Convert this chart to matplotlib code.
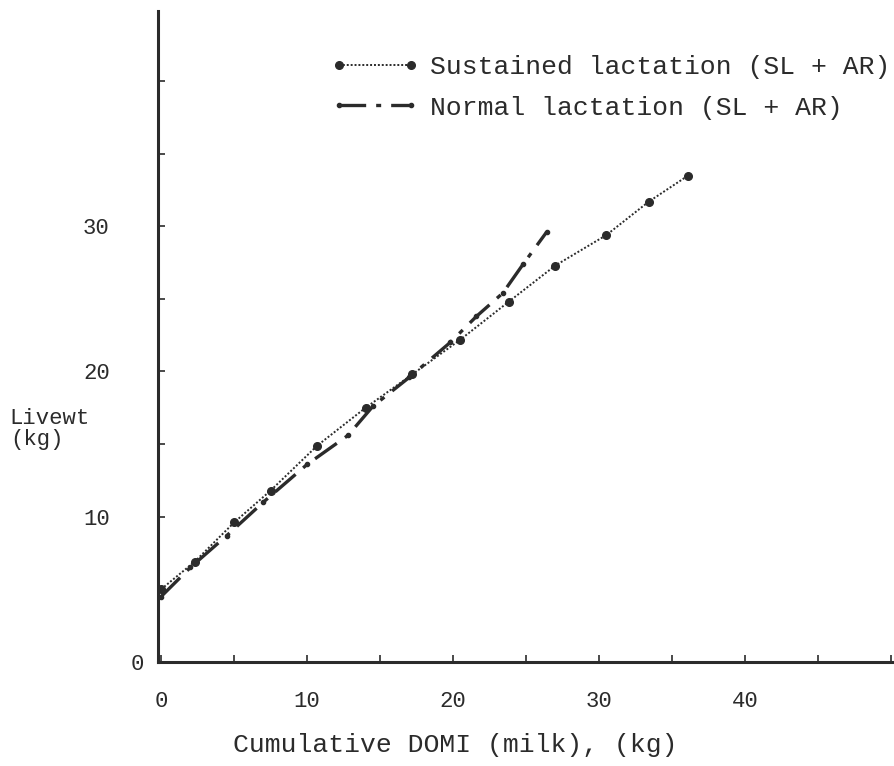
import matplotlib
matplotlib.use("Agg")
import matplotlib.pyplot as plt
from matplotlib.ticker import MultipleLocator

# cumulative digestible organic matter intake from milk (kg) vs liveweight (kg)
sustained_domi = [0, 2.3, 5.0, 7.5, 10.7, 14.0, 17.2, 20.5, 23.8, 27.0, 30.5, 33.4, 36.1]
sustained_livewt = [5.0, 6.9, 9.6, 11.8, 14.9, 17.5, 19.8, 22.2, 24.8, 27.3, 29.4, 31.7, 33.5]

normal_domi = [0, 2.0, 4.5, 7.0, 10.0, 12.8, 14.5, 17.0, 19.8, 21.6, 23.4, 24.8, 26.4]
normal_livewt = [4.5, 6.5, 8.7, 11.0, 13.6, 15.6, 17.6, 19.6, 22.0, 23.8, 25.4, 27.4, 29.6]

x_ticks = [0, 10, 20, 30, 40]
y_ticks = [0, 10, 20, 30]

ink = "#2b2b2b"
plt.rcParams["font.family"] = ["Liberation Mono", "DejaVu Sans Mono"]

fig = plt.figure(figsize=(8.94, 7.66), dpi=100)
ax = fig.add_axes([0.177, 0.136, 0.823, 0.849])

ax.plot(sustained_domi, sustained_livewt, linestyle=(0, (1, 1)), linewidth=1.4,
        color=ink, marker="o", markersize=5.5, label="Sustained lactation (SL + AR)")
ax.plot(normal_domi, normal_livewt, linestyle=(0, (8, 3, 1.5, 3)), linewidth=2.4,
        color=ink, marker="o", markersize=3, label="Normal lactation (SL + AR)")

ax.set_xlim(-0.2, 50.2)
ax.set_ylim(0, 44.8)
ax.set_xticks(x_ticks)
ax.set_yticks(y_ticks)
ax.xaxis.set_minor_locator(MultipleLocator(5))
ax.yaxis.set_minor_locator(MultipleLocator(5))
ax.tick_params(which="both", direction="in", length=5, width=1.2, color=ink,
               labelcolor=ink, labelsize=16)
ax.tick_params(axis="x", pad=21)
ax.tick_params(axis="y", pad=35)
ax.yaxis.get_major_ticks()[0].set_pad(10)

for side in ("top", "right"):
    ax.spines[side].set_visible(False)
for side in ("left", "bottom"):
    ax.spines[side].set_linewidth(2.2)
    ax.spines[side].set_color(ink)

ax.set_xlabel("Cumulative DOMI (milk), (kg)", fontsize=19, color=ink)
ax.xaxis.set_label_coords(0.404, -0.11)
fig.text(0.011, 0.44, "Livewt\n(kg)", fontsize=16, color=ink, ha="left",
         va="center", linespacing=0.95)

ax.legend(loc="upper right", bbox_to_anchor=(1.017, 0.957), frameon=False,
          fontsize=19, numpoints=2, handlelength=3.3, handletextpad=0.45,
          labelspacing=0.62, labelcolor=ink, borderaxespad=0.2)

fig.savefig("out.png", dpi=100)
